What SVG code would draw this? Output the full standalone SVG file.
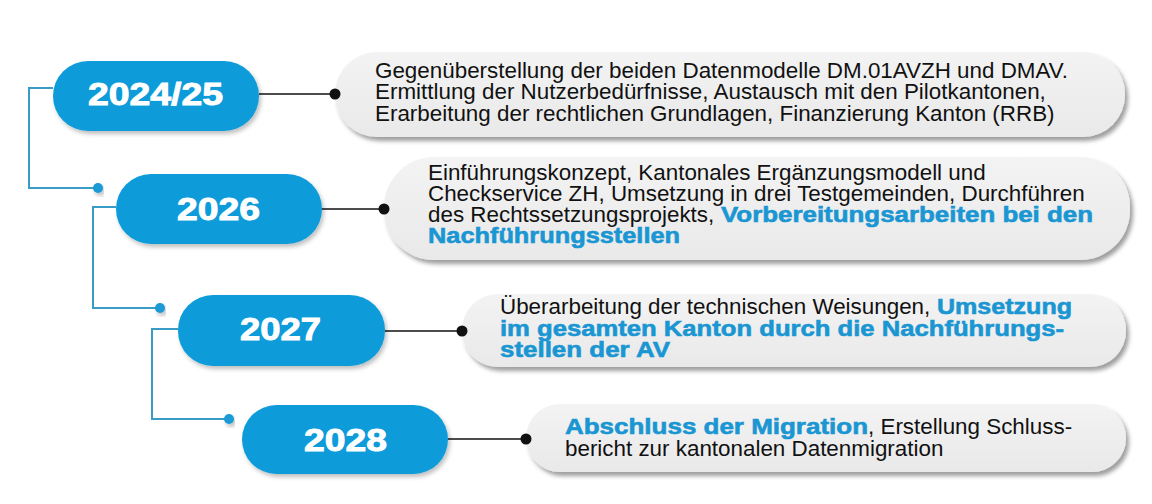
<svg xmlns="http://www.w3.org/2000/svg" width="1152" height="504" viewBox="0 0 1152 504">
<defs>
<filter id="sh" x="-10%" y="-30%" width="120%" height="170%">
<feDropShadow dx="3" dy="4" stdDeviation="2.2" flood-color="#000" flood-opacity="0.38"/>
</filter>
<filter id="shp" x="-10%" y="-30%" width="120%" height="170%">
<feDropShadow dx="2" dy="3" stdDeviation="2" flood-color="#000" flood-opacity="0.25"/>
</filter>
<linearGradient id="gb" x1="0" y1="0" x2="0" y2="1">
<stop offset="0" stop-color="#f3f3f3"/>
<stop offset="1" stop-color="#e9e9e9"/>
</linearGradient>
</defs>
<style>
.pill{fill:#0c9bd9;filter:url(#shp)}
.box{fill:url(#gb);filter:url(#sh)}
.yr{font-family:"Liberation Sans",Arial,sans-serif;font-weight:bold;font-size:31px;fill:#fff;stroke:#fff;stroke-width:0.9px}
.t{font-family:"Liberation Sans",Arial,sans-serif;font-size:22.4px;fill:#111}
.b{font-family:"Liberation Sans",Arial,sans-serif;font-weight:bold;font-size:22.4px;fill:#1a96d2;stroke:#1a96d2;stroke-width:0.6px}
.con{stroke:#111;stroke-width:1.6;fill:none}
.dot{fill:#111}
.br{stroke:#3a9cc6;stroke-width:2;fill:none}
.bdot{fill:#1a9ad6;filter:url(#shp)}
</style>
<rect width="1152" height="504" fill="#fff"/>

<g id="connectors">
<path class="br" d="M53,88 H29 V188 H98"/>
<circle class="bdot" cx="98" cy="188" r="5"/>
<path class="br" d="M116,207 H93 V308 H160"/>
<circle class="bdot" cx="160" cy="308" r="5"/>
<path class="br" d="M178,329 H152 V419 H229"/>
<circle class="bdot" cx="229" cy="419" r="5"/>
<line class="con" x1="259" y1="94" x2="335" y2="94"/>
<line class="con" x1="322" y1="209" x2="384" y2="209"/>
<line class="con" x1="385" y1="331" x2="462" y2="331"/>
<line class="con" x1="448" y1="439" x2="526" y2="439"/>
</g>

<g id="box1">
<rect class="box" x="335" y="52" width="790" height="85" rx="42" ry="42"/>
<text class="t" x="375" y="78">Gegenüberstellung der beiden Datenmodelle DM.01AVZH und DMAV.</text>
<text class="t" x="375" y="99.3">Ermittlung der Nutzerbedürfnisse, Austausch mit den Pilotkantonen,</text>
<text class="t" x="375" y="120.6">Erarbeitung der rechtlichen Grundlagen, Finanzierung Kanton (RRB)</text>
</g>
<g id="box2">
<rect class="box" x="384" y="157" width="746" height="103" rx="50" ry="50"/>
<text class="t" x="428" y="179.5">Einführungskonzept, Kantonales Ergänzungsmodell und</text>
<text class="t" x="428" y="200.8">Checkservice ZH, Umsetzung in drei Testgemeinden, Durchführen</text>
<text class="t" x="428" y="222.1">des Rechtssetzungsprojekts, </text>
<text class="b" x="721" y="222.1" textLength="372" lengthAdjust="spacingAndGlyphs">Vorbereitungsarbeiten bei den</text>
<text class="b" x="428" y="243.4" textLength="252" lengthAdjust="spacingAndGlyphs">Nachführungsstellen</text>
</g>
<g id="box3">
<rect class="box" x="462" y="294" width="664" height="73" rx="36" ry="36"/>
<text class="t" x="500" y="314">Überarbeitung der technischen Weisungen, </text>
<text class="b" x="937" y="314" textLength="135" lengthAdjust="spacingAndGlyphs">Umsetzung</text>
<text class="b" x="500" y="335.5" textLength="564" lengthAdjust="spacingAndGlyphs">im gesamten Kanton durch die Nachführungs-</text>
<text class="b" x="500" y="357" textLength="170" lengthAdjust="spacingAndGlyphs">stellen der AV</text>
</g>
<g id="box4">
<rect class="box" x="526" y="404" width="600" height="68" rx="34" ry="34"/>
<text class="b" x="565" y="434" textLength="303" lengthAdjust="spacingAndGlyphs">Abschluss der Migration</text>
<text class="t" x="868" y="434">, Erstellung Schluss-</text>
<text class="t" x="565" y="455.5">bericht zur kantonalen Datenmigration</text>
</g>

<g id="y2024">
<rect class="pill" x="53" y="61" width="206" height="70" rx="35"/>
<text class="yr" x="88" y="105" textLength="135" lengthAdjust="spacingAndGlyphs">2024/25</text>
</g>
<g id="y2026">
<rect class="pill" x="116" y="174" width="206" height="70" rx="35"/>
<text class="yr" x="177" y="220" textLength="83" lengthAdjust="spacingAndGlyphs">2026</text>
</g>
<g id="y2027">
<rect class="pill" x="178" y="295" width="207" height="71" rx="35"/>
<text class="yr" x="240" y="340" textLength="81" lengthAdjust="spacingAndGlyphs">2027</text>
</g>
<g id="y2028">
<rect class="pill" x="242" y="405" width="206" height="69" rx="34.5"/>
<text class="yr" x="304" y="451" textLength="83" lengthAdjust="spacingAndGlyphs">2028</text>
</g>
<g id="dots">
<circle class="dot" cx="335" cy="94" r="5.5"/>
<circle class="dot" cx="384" cy="209" r="5.5"/>
<circle class="dot" cx="462" cy="331" r="5.5"/>
<circle class="dot" cx="526" cy="439" r="5.5"/>
</g>
</svg>
